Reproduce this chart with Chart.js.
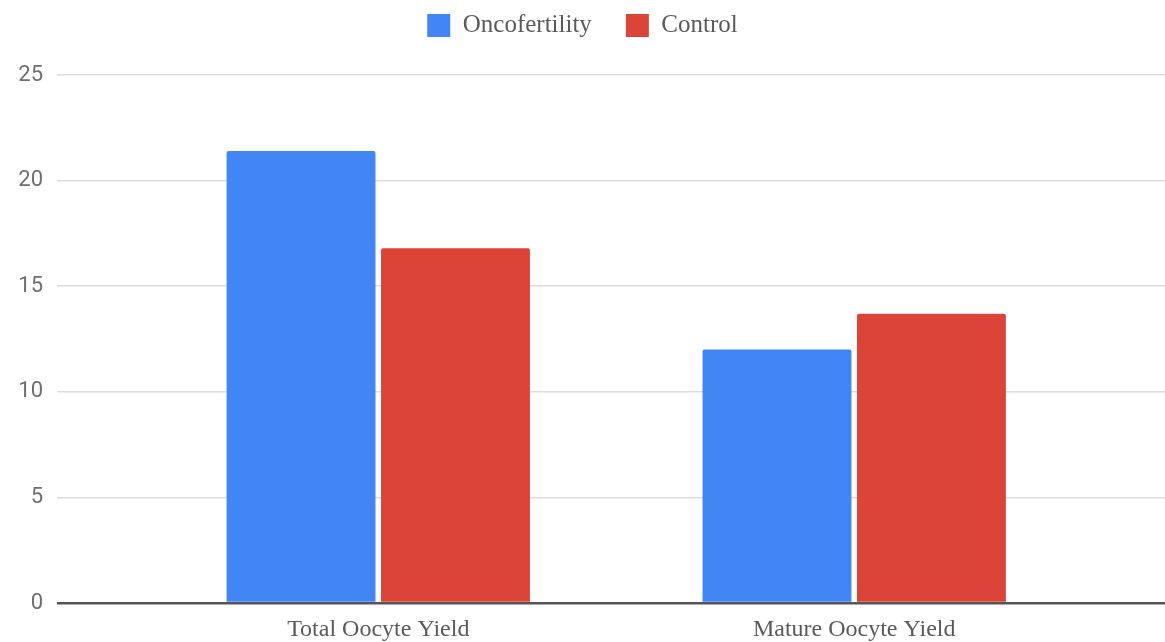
<!DOCTYPE html>
<html>
<head>
<meta charset="utf-8">
<script src="https://cdn.jsdelivr.net/npm/chart.js@4/dist/chart.umd.min.js"></script>
<style>
  html, body { margin: 0; padding: 0; background: #ffffff; }
  #wrap { width: 1165px; height: 642px; position: relative; }
</style>
</head>
<body>
<div id="wrap"><canvas id="c"></canvas></div>
<script>
const categories = ['Total Oocyte Yield', 'Mature Oocyte Yield'];
const seriesNames = ['Oncofertility', 'Control'];
const oncofertility = [21.4, 12.0];
const control = [16.8, 13.7];
const yTicks = [0, 5, 10, 15, 20, 25];

const legendHeight = {
  id: 'legendHeight',
  beforeInit(chart) {
    const orig = chart.legend.fit;
    chart.legend.fit = function () { orig.call(this); this.height = 96; };
  }
};

new Chart(document.getElementById('c'), {
  type: 'bar',
  data: {
    datasets: [
      {
        label: seriesNames[0],
        data: categories.map((c, i) => ({ x: i, y: oncofertility[i] })),
        backgroundColor: '#4285F4',
        borderRadius: 2,
        categoryPercentage: 0.649,
        barPercentage: 0.964
      },
      {
        label: seriesNames[1],
        data: categories.map((c, i) => ({ x: i, y: control[i] })),
        backgroundColor: '#DB4437',
        borderRadius: 2,
        categoryPercentage: 0.649,
        barPercentage: 0.964
      }
    ]
  },
  options: {
    responsive: true,
    maintainAspectRatio: false,
    animation: false,
    layout: { padding: { top: -21, left: 0, right: 0, bottom: 0 } },
    plugins: {
      legend: {
        position: 'top',
        labels: {
          boxWidth: 23,
          boxHeight: 23,
          padding: 34,
          color: '#5a5a5a',
          font: { family: "'Liberation Serif', 'DejaVu Serif', serif", size: 25 }
        }
      },
      tooltip: { enabled: false }
    },
    scales: {
      x: {
        type: 'linear',
        offset: false,
        min: -0.675,
        max: 1.653,
        grid: { display: false, offset: false },
        border: { display: false },
        afterBuildTicks: s => { s.ticks = categories.map((c, i) => ({ value: i })); },
        afterFit: s => { s.height = 39; },
        ticks: {
          autoSkip: false,
          padding: 4,
          color: '#5a5a5a',
          font: { family: "'Liberation Serif', 'DejaVu Serif', serif", size: 24 },
          callback: v => categories[v] !== undefined ? categories[v] : ''
        }
      },
      y: {
        min: 0,
        max: 25,
        afterBuildTicks: s => { s.ticks = yTicks.map(v => ({ value: v })); },
        afterFit: s => { s.width = 57; },
        border: { display: false },
        grid: {
          drawTicks: false,
          color: c => c.tick && c.tick.value === 0 ? '#555555' : '#dcdcdc',
          lineWidth: c => c.tick && c.tick.value === 0 ? 2.5 : 1.5
        },
        ticks: {
          padding: 14,
          color: '#6f6f6f',
          font: { family: "Roboto, 'Liberation Sans', sans-serif", size: 22 }
        }
      }
    }
  },
  plugins: [legendHeight]
});
</script>
</body>
</html>
